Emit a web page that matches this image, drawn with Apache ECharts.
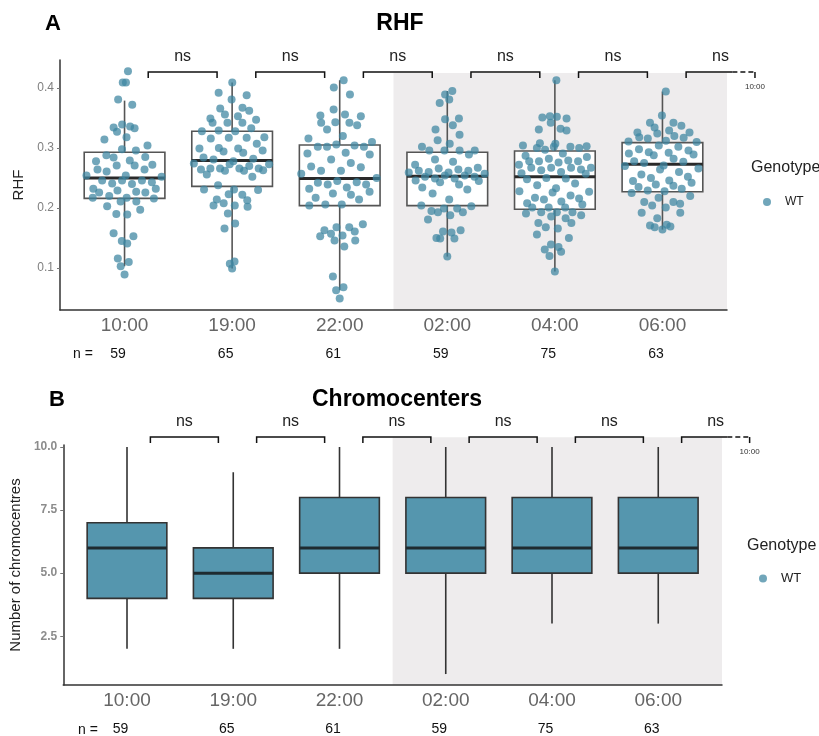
<!DOCTYPE html>
<html>
<head>
<meta charset="utf-8">
<title>RHF / Chromocenters</title>
<script src="https://cdn.jsdelivr.net/npm/echarts@6/dist/echarts.min.js"></script>
<style>
  html, body { margin: 0; padding: 0; background: #fff; }
  #chart { width: 819px; height: 736px; }
</style>
</head>
<body>
<div id="chart"></div>
<script>
// --- data ---
const times = ['10:00', '19:00', '22:00', '02:00', '04:00', '06:00'];
const nCounts = [59, 65, 61, 59, 75, 63];

// panel A: RHF per nucleus (one value per dot)
const rhf1000 = [0.428,0.409,0.409,0.381,0.372,0.339,0.336,0.334,0.333,0.327,0.318,0.314,0.304,0.298,0.296,0.288,0.285,0.284,0.279,0.278,0.272,0.271,0.271,0.264,0.264,0.261,0.254,0.254,0.252,0.246,0.246,0.246,0.243,0.241,0.240,0.232,0.232,0.229,0.227,0.226,0.226,0.220,0.217,0.217,0.216,0.211,0.211,0.203,0.197,0.190,0.189,0.158,0.153,0.145,0.141,0.116,0.110,0.103,0.089];
const rhf1900 = [0.409,0.392,0.388,0.381,0.367,0.366,0.362,0.356,0.353,0.349,0.347,0.342,0.342,0.342,0.333,0.329,0.328,0.328,0.318,0.317,0.317,0.316,0.307,0.300,0.299,0.299,0.296,0.294,0.292,0.284,0.282,0.281,0.278,0.274,0.273,0.273,0.270,0.266,0.266,0.266,0.266,0.264,0.263,0.262,0.262,0.256,0.252,0.238,0.231,0.231,0.230,0.223,0.222,0.214,0.213,0.208,0.204,0.204,0.202,0.191,0.174,0.166,0.111,0.107,0.099];
const rhf2200 = [0.413,0.401,0.389,0.364,0.356,0.354,0.353,0.343,0.342,0.342,0.338,0.331,0.320,0.316,0.310,0.306,0.304,0.302,0.302,0.302,0.292,0.291,0.289,0.281,0.275,0.269,0.268,0.262,0.262,0.257,0.250,0.245,0.243,0.242,0.239,0.239,0.234,0.232,0.227,0.224,0.222,0.217,0.214,0.206,0.206,0.204,0.173,0.168,0.168,0.163,0.161,0.157,0.154,0.153,0.146,0.146,0.136,0.086,0.068,0.063,0.049];
const rhf0200 = [0.395,0.389,0.381,0.375,0.349,0.348,0.338,0.331,0.322,0.313,0.307,0.302,0.296,0.296,0.296,0.296,0.289,0.281,0.277,0.272,0.267,0.266,0.264,0.262,0.262,0.260,0.259,0.259,0.257,0.254,0.254,0.252,0.252,0.249,0.249,0.246,0.245,0.243,0.239,0.234,0.231,0.224,0.214,0.204,0.203,0.199,0.199,0.195,0.193,0.193,0.188,0.181,0.163,0.161,0.159,0.150,0.149,0.149,0.119];
const rhf0400 = [0.413,0.353,0.352,0.351,0.349,0.342,0.332,0.331,0.329,0.308,0.307,0.304,0.303,0.302,0.302,0.300,0.300,0.297,0.291,0.287,0.285,0.282,0.279,0.278,0.278,0.278,0.276,0.272,0.267,0.267,0.267,0.267,0.264,0.263,0.260,0.258,0.257,0.250,0.249,0.248,0.241,0.238,0.233,0.228,0.227,0.226,0.221,0.217,0.216,0.214,0.211,0.208,0.206,0.201,0.201,0.201,0.193,0.193,0.193,0.191,0.188,0.186,0.183,0.175,0.175,0.168,0.166,0.156,0.150,0.139,0.135,0.131,0.127,0.120,0.094];
const rhf0600 = [0.394,0.354,0.342,0.342,0.337,0.334,0.329,0.326,0.326,0.324,0.320,0.318,0.317,0.316,0.312,0.311,0.310,0.304,0.302,0.298,0.296,0.293,0.292,0.291,0.289,0.288,0.282,0.278,0.277,0.275,0.271,0.270,0.266,0.264,0.260,0.256,0.252,0.250,0.246,0.245,0.242,0.239,0.237,0.235,0.232,0.229,0.228,0.225,0.220,0.217,0.210,0.210,0.207,0.204,0.201,0.192,0.192,0.183,0.172,0.171,0.169,0.168,0.164];

// panel A box statistics
const rhfLow  = [0.103, 0.099, 0.063, 0.119, 0.094, 0.164];
const rhfQ1   = [0.216, 0.236, 0.204, 0.204, 0.198, 0.227];
const rhfMed  = [0.250, 0.279, 0.249, 0.253, 0.252, 0.273];
const rhfQ3   = [0.293, 0.328, 0.305, 0.293, 0.295, 0.309];
const rhfHigh = [0.379, 0.409, 0.413, 0.395, 0.413, 0.394];

// panel B box statistics (number of chromocentres)
const chromoLow  = [2, 2, 2, 1, 3, 3];
const chromoQ1   = [4, 4, 5, 5, 5, 5];
const chromoMed  = [6, 5, 6, 6, 6, 6];
const chromoQ3   = [7, 6, 8, 8, 8, 8];
const chromoHigh = [10, 9, 10, 10, 10, 10];

// pairwise tests (each time vs the next one)
const rhfSig    = ['ns', 'ns', 'ns', 'ns', 'ns', 'ns'];
const chromoSig = ['ns', 'ns', 'ns', 'ns', 'ns', 'ns'];
const pairEnd   = ['19:00', '22:00', '02:00', '04:00', '06:00', '10:00'];

const rhfTicks    = [0.1, 0.2, 0.3, 0.4];
const chromoTicks = [2.5, 5.0, 7.5, 10.0];

// --- styling ---
const FONT = 'Liberation Sans, Arial, Helvetica, sans-serif';
const DOT = 'rgba(62,134,162,0.92)';
const BOX_FILL = '#5596ae';
const SHADE = '#eeeced';
const X_MIN = 0.4, X_MAX = 6.6;   // discrete axis with ggplot-like padding
const groupPos = times.map((t, i) => i + 1);
const nightStart = times.indexOf('02:00') + 0.5;

// quasirandom (van der Corput) horizontal offsets, scaled by density
function vanDerCorput(n) {
  let v = 0, d = 1;
  while (n > 0) { d *= 2; v += (n % 2) / d; n = Math.floor(n / 2); }
  return v;
}
function quasiOffsets(vals, width) {
  const n = vals.length;
  const s = vals.slice().sort((a, b) => a - b);
  const mean = s.reduce((a, b) => a + b, 0) / n;
  const sd = Math.sqrt(s.reduce((a, b) => a + (b - mean) * (b - mean), 0) / (n - 1));
  const iqr = s[Math.floor(n * 0.75)] - s[Math.floor(n * 0.25)];
  const bw = 0.9 * Math.min(sd, iqr / 1.34) * Math.pow(n, -0.2) * 1.3;
  const dens = vals.map(v => vals.reduce((a, u) => a + Math.exp(-0.5 * ((v - u) / bw) ** 2), 0));
  const maxD = Math.max(...dens);
  const order = vals.map((v, i) => i).sort((a, b) => vals[a] - vals[b] || a - b);
  const off = new Array(n);
  order.forEach((idx, r) => {
    off[idx] = (vanDerCorput(r + 1) - 0.5) * 2 * width * dens[idx] / maxD;
  });
  return off;
}

const rhfGroups = [rhf1000, rhf1900, rhf2200, rhf0200, rhf0400, rhf0600];
const rhfPoints = [];
rhfGroups.forEach((vals, g) => {
  const off = quasiOffsets(vals, 0.37);
  vals.forEach((v, k) => rhfPoints.push([groupPos[g] + off[k], v]));
});

const boxData = (lo, q1, md, q3, hi) => groupPos.map((x, i) => [x, lo[i], q1[i], md[i], q3[i], hi[i]]);

function boxRenderer(fill, stroke, medColor) {
  return function (params, api) {
    const x = api.value(0);
    const pLow = api.coord([x, api.value(1)]);
    const pQ1 = api.coord([x, api.value(2)]);
    const pMed = api.coord([x, api.value(3)]);
    const pQ3 = api.coord([x, api.value(4)]);
    const pHigh = api.coord([x, api.value(5)]);
    const hw = api.size([0.375, 0])[0];
    const cx = pMed[0];
    const ln = { stroke: stroke, lineWidth: 1.6 };
    return {
      type: 'group',
      children: [
        { type: 'line', shape: { x1: cx, y1: pHigh[1], x2: cx, y2: pQ3[1] }, style: ln },
        { type: 'line', shape: { x1: cx, y1: pQ1[1], x2: cx, y2: pLow[1] }, style: ln },
        { type: 'rect', shape: { x: cx - hw, y: pQ3[1], width: 2 * hw, height: pQ1[1] - pQ3[1] },
          style: { fill: fill, stroke: stroke, lineWidth: 1.6 } },
        { type: 'line', shape: { x1: cx - hw, y1: pMed[1], x2: cx + hw, y2: pMed[1] },
          style: { stroke: medColor, lineWidth: 3 } }
      ]
    };
  };
}

function shadeRenderer(yBottom, yTop) {
  return function (params, api) {
    const a = api.coord([api.value(0), yTop]);
    const b = api.coord([X_MAX, yBottom]);
    return { type: 'rect', shape: { x: a[0], y: a[1], width: b[0] - a[0], height: b[1] - a[1] },
      style: { fill: SHADE } };
  };
}

function bracketRenderer(labels, yLevel) {
  return function (params, api) {
    const i = api.value(0);
    const xs = i + 0.22, xe = i + 0.86;
    const p1 = api.coord([xs, yLevel]);
    const p2 = api.coord([xe, yLevel]);
    const tick = 6;
    const ln = { stroke: '#111', lineWidth: 1.5, fill: null };
    const children = [];
    if (xe <= X_MAX) {
      children.push({ type: 'polyline', shape: { points: [[p1[0], p1[1] + tick], p1, p2, [p2[0], p2[1] + tick]] }, style: ln });
    } else {
      const pe = api.coord([X_MAX + 0.05, yLevel]);
      children.push({ type: 'polyline', shape: { points: [[p1[0], p1[1] + tick], p1, pe] }, style: ln });
      children.push({ type: 'line', shape: { x1: pe[0], y1: pe[1], x2: p2[0], y2: p2[1] },
        style: { stroke: '#111', lineWidth: 1.5, lineDash: [5, 3] } });
      children.push({ type: 'line', shape: { x1: p2[0], y1: p2[1], x2: p2[0], y2: p2[1] + tick }, style: ln });
      children.push({ type: 'text', style: { text: pairEnd[params.dataIndex], x: p2[0], y: p2[1] + 15,
        textAlign: 'center', textVerticalAlign: 'middle', fontSize: 8, fontFamily: FONT, fill: '#333' } });
    }
    children.push({ type: 'text', style: { text: labels[params.dataIndex], x: (p1[0] + p2[0]) / 2, y: p1[1] - 15,
      textAlign: 'center', textVerticalAlign: 'middle', fontSize: 16, fontFamily: FONT, fill: '#222' } });
    return { type: 'group', children: children };
  };
}

function timeAxis(grid) {
  return {
    type: 'value', gridIndex: grid, min: X_MIN, max: X_MAX, position: 'bottom', z: 10,
    splitLine: { show: false },
    axisLine: { show: true, lineStyle: { color: '#333', width: 1.5 } },
    axisTick: { show: false },
    axisLabel: { customValues: groupPos, margin: 6, fontSize: 19, color: '#666', fontFamily: FONT,
      formatter: v => times[Math.round(v) - 1] }
  };
}
function countAxis(grid) {
  return {
    type: 'value', gridIndex: grid, min: X_MIN, max: X_MAX, position: 'bottom',
    splitLine: { show: false }, axisLine: { show: false }, axisTick: { show: false },
    axisLabel: { customValues: groupPos, margin: 37, fontSize: 14, color: '#111', fontFamily: FONT,
      padding: [0, 13, 0, 0], formatter: v => String(nCounts[Math.round(v) - 1]) }
  };
}

const chart = echarts.init(document.getElementById('chart'));
chart.setOption({
  animation: false,
  backgroundColor: '#fff',
  grid: [
    { left: 60, top: 60, width: 667, height: 250 },
    { left: 62, top: 445, width: 660, height: 241 }
  ],
  xAxis: [timeAxis(0), countAxis(0), timeAxis(1), countAxis(1)],
  yAxis: [
    {
      type: 'value', gridIndex: 0, min: 0.03, max: 0.4467, z: 10,
      name: 'RHF', nameLocation: 'middle', nameRotate: 90, nameGap: 30,
      nameTextStyle: { fontSize: 15, color: '#222', fontFamily: FONT },
      splitLine: { show: false },
      axisLine: { show: true, lineStyle: { color: '#333', width: 1.5 } },
      axisTick: { show: true, customValues: rhfTicks, length: 3, lineStyle: { color: '#777' } },
      axisLabel: { customValues: rhfTicks, fontSize: 12, color: '#808080', fontFamily: FONT, margin: 6,
        formatter: v => v.toFixed(1) }
    },
    {
      type: 'value', gridIndex: 1, min: 0.566, max: 10.08, z: 10,
      name: 'Number of chromocentres', nameLocation: 'middle', nameRotate: 90, nameGap: 36,
      nameTextStyle: { fontSize: 15, color: '#222', fontFamily: FONT },
      splitLine: { show: false },
      axisLine: { show: true, lineStyle: { color: '#333', width: 1.5 } },
      axisTick: { show: true, customValues: chromoTicks, length: 3, lineStyle: { color: '#777' } },
      axisLabel: { customValues: chromoTicks, fontSize: 12, fontWeight: 'bold', color: '#8c8c8c', fontFamily: FONT, margin: 6,
        formatter: v => v.toFixed(1) }
    }
  ],
  legend: [
    { data: ['WT'], left: 758, top: 191, icon: 'circle', itemWidth: 8, itemHeight: 8, selectedMode: false,
      textStyle: { fontSize: 12, color: '#222', fontFamily: FONT, padding: [0, 0, 0, 9] } },
    { data: ['WT'], left: 754, top: 567, icon: 'circle', itemWidth: 8, itemHeight: 8, selectedMode: false,
      textStyle: { fontSize: 13, color: '#222', fontFamily: FONT, padding: [0, 0, 0, 9] } }
  ],
  graphic: [
    { type: 'text', x: 53, y: 24, style: { text: 'A', fontSize: 22, fontWeight: 'bold', fontFamily: FONT, fill: '#000', textAlign: 'center', textVerticalAlign: 'middle' } },
    { type: 'text', x: 400, y: 24, style: { text: 'RHF', fontSize: 23, fontWeight: 'bold', fontFamily: FONT, fill: '#000', textAlign: 'center', textVerticalAlign: 'middle' } },
    { type: 'text', x: 57, y: 400, style: { text: 'B', fontSize: 22, fontWeight: 'bold', fontFamily: FONT, fill: '#000', textAlign: 'center', textVerticalAlign: 'middle' } },
    { type: 'text', x: 397, y: 400, style: { text: 'Chromocenters', fontSize: 23, fontWeight: 'bold', fontFamily: FONT, fill: '#000', textAlign: 'center', textVerticalAlign: 'middle' } },
    { type: 'text', x: 73, y: 354, style: { text: 'n =', fontSize: 14, fontFamily: FONT, fill: '#111', textVerticalAlign: 'middle' } },
    { type: 'text', x: 78, y: 730, style: { text: 'n =', fontSize: 14, fontFamily: FONT, fill: '#111', textVerticalAlign: 'middle' } },
    { type: 'text', x: 751, y: 168, style: { text: 'Genotype', fontSize: 16, fontFamily: FONT, fill: '#222', textVerticalAlign: 'middle' } },
    { type: 'text', x: 747, y: 546, style: { text: 'Genotype', fontSize: 16, fontFamily: FONT, fill: '#222', textVerticalAlign: 'middle' } }
  ],
  series: [
    // panel A
    { type: 'custom', name: 'nightA', xAxisIndex: 0, yAxisIndex: 0, clip: false, z: 0, silent: true,
      renderItem: shadeRenderer(0.03, 0.425), data: [[nightStart]] },
    { type: 'custom', name: 'rhfBox', xAxisIndex: 0, yAxisIndex: 0, z: 2,
      renderItem: boxRenderer('#fff', '#555', '#2a2a2a'),
      encode: { x: 0, y: [1, 2, 3, 4, 5] },
      data: boxData(rhfLow, rhfQ1, rhfMed, rhfQ3, rhfHigh) },
    { type: 'scatter', name: 'WT', xAxisIndex: 0, yAxisIndex: 0, z: 3,
      symbolSize: 8, itemStyle: { color: DOT }, data: rhfPoints },
    { type: 'custom', name: 'rhfTests', xAxisIndex: 0, yAxisIndex: 0, clip: false, z: 4, silent: true,
      renderItem: bracketRenderer(rhfSig, 0.4267), data: groupPos.map(x => [x]) },
    // panel B
    { type: 'custom', name: 'nightB', xAxisIndex: 2, yAxisIndex: 1, clip: false, z: 0, silent: true,
      renderItem: shadeRenderer(0.566, 10.39), data: [[nightStart]] },
    { type: 'custom', name: 'WT', xAxisIndex: 2, yAxisIndex: 1, z: 2,
      itemStyle: { color: BOX_FILL },
      renderItem: boxRenderer(BOX_FILL, '#333', '#1e2b30'),
      encode: { x: 0, y: [1, 2, 3, 4, 5] },
      data: boxData(chromoLow, chromoQ1, chromoMed, chromoQ3, chromoHigh) },
    { type: 'custom', name: 'chromoTests', xAxisIndex: 2, yAxisIndex: 1, clip: false, z: 4, silent: true,
      renderItem: bracketRenderer(chromoSig, 10.395), data: groupPos.map(x => [x]) }
  ]
});
</script>
</body>
</html>
